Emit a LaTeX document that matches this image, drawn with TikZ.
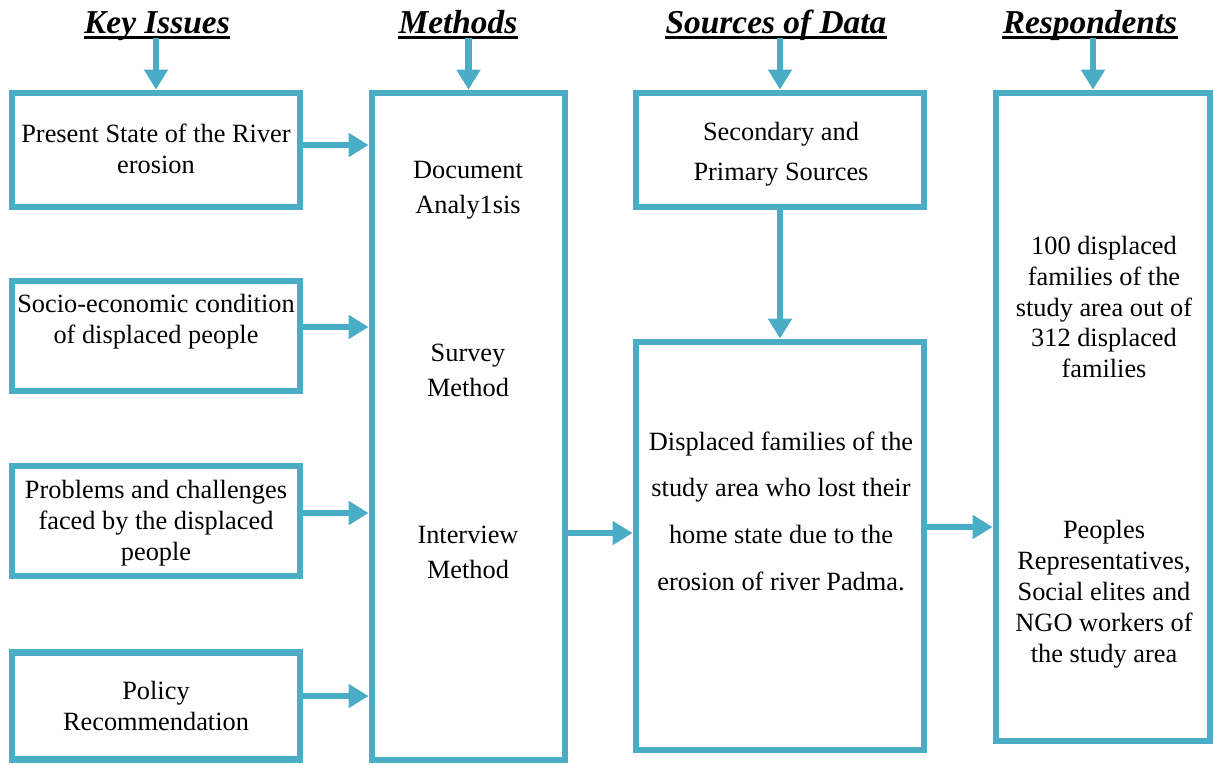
\documentclass[tikz,border=0pt]{standalone}
\usepackage{fontspec}
\setmainfont{Liberation Serif}
\usetikzlibrary{arrows.meta}
\definecolor{bleu}{RGB}{75,172,198}

\begin{document}
\begin{tikzpicture}[x=0.02cm, y=-0.02cm]
\tikzset{cadre/.style={draw=bleu, line width=3.9pt, inner sep=0pt},
  texte/.style={align=center, font=\fontsize{15}{17.6}\selectfont},
  titre/.style={inner sep=0pt, anchor=base, font=\fontsize{19}{22}\selectfont\bfseries\itshape},
  souligne/.style={line width=1.7pt},
  fleche/.style={draw=bleu, line width=3.9pt, -{Triangle[length=0.4cm, width=0.46cm]}}}
\useasboundingbox (0,0) rectangle (1213,765);
% titres
\node[titre] (hK) at (157,33) {Key Issues};
\node[titre] (hM) at (458,33) {Methods};
\node[titre] (hS) at (776,33) {Sources of Data};
\node[titre] (hR) at (1090,33) {Respondents};
\draw[souligne] ([yshift=-2.8pt]hK.base west) -- ([yshift=-2.8pt]hK.base east) coordinate (uK);
\draw[souligne] ([yshift=-2.8pt]hM.base west) -- ([yshift=-2.8pt]hM.base east) coordinate (uM);
\draw[souligne] ([yshift=-2.8pt]hS.base west) -- ([yshift=-2.8pt]hS.base east) coordinate (uS);
\draw[souligne] ([yshift=-2.8pt]hR.base west) -- ([yshift=-2.8pt]hR.base east) coordinate (uR);
% cadres
\node[cadre, minimum width=5.76cm, minimum height=2.28cm] (k1) at (156,150) {};
\node[cadre, minimum width=5.76cm, minimum height=2.2cm] (k2) at (156,336) {};
\node[cadre, minimum width=5.76cm, minimum height=2.2cm] (k3) at (156,521) {};
\node[cadre, minimum width=5.76cm, minimum height=2.14cm] (k4) at (156,706) {};
\node[cadre, minimum width=3.86cm, minimum height=13.34cm] (meth) at (468.5,426.5) {};
\node[cadre, minimum width=5.76cm, minimum height=2.28cm] (src1) at (780,150) {};
\node[cadre, minimum width=5.76cm, minimum height=8.16cm] (src2) at (780,546) {};
\node[cadre, minimum width=4.28cm, minimum height=12.96cm] (resp) at (1103,417) {};
% textes
\node[texte] (tk1) at (156,149) {Present State of the River\\erosion};
\node[texte] (tk2) at (156,322) {Socio-economic condition\\of displaced people};
\node[texte] (tk3) at (156,523) {Problems and challenges\\faced by the displaced\\people};
\node[texte] (tk4) at (156,706) {Policy\\Recommendation};
\node[texte, font=\fontsize{15}{20}\selectfont] (tm1) at (468,190) {Document\\Analy1sis};
\node[texte, font=\fontsize{15}{20}\selectfont] (tm2) at (468,370) {Survey\\Method};
\node[texte, font=\fontsize{15}{20}\selectfont] (tm3) at (468,552) {Interview\\Method};
\node[texte, font=\fontsize{15}{22.7}\selectfont] (ts1) at (781,154) {Secondary and\\Primary Sources};
\node[texte, font=\fontsize{15}{26.6}\selectfont] (ts2) at (781,511) {Displaced families of the\\study area who lost their\\home state due to the\\erosion of river Padma.};
\node[texte] (tr1) at (1104,307) {100 displaced\\families of the\\study area out of\\312 displaced\\families};
\node[texte] (tr2) at (1104,594) {Peoples\\Representatives,\\Social elites and\\NGO workers of\\the study area};
% fleches
\draw[fleche] (k1.north |- uK) -- (k1.north);
\draw[fleche] (meth.north |- uM) -- (meth.north);
\draw[fleche] (src1.north |- uS) -- (src1.north);
\draw[fleche] ([xshift=-0.2cm]resp.north |- uR) -- ([xshift=-0.2cm]resp.north);
\draw[fleche] ([yshift=0.1cm]k1.east) -- ([yshift=0.1cm]k1.east -| meth.west);
\draw[fleche] ([yshift=0.18cm]k2.east) -- ([yshift=0.18cm]k2.east -| meth.west);
\draw[fleche] ([yshift=0.16cm]k3.east) -- ([yshift=0.16cm]k3.east -| meth.west);
\draw[fleche] ([yshift=0.2cm]k4.east) -- ([yshift=0.2cm]k4.east -| meth.west);
\draw[fleche] (src1.south) -- (src2.north);
\draw[fleche] (meth.east |- 0,533) -- (src2.west |- 0,533);
\draw[fleche] (src2.east |- 0,527) -- (resp.west |- 0,527);
\end{tikzpicture}
\end{document}
